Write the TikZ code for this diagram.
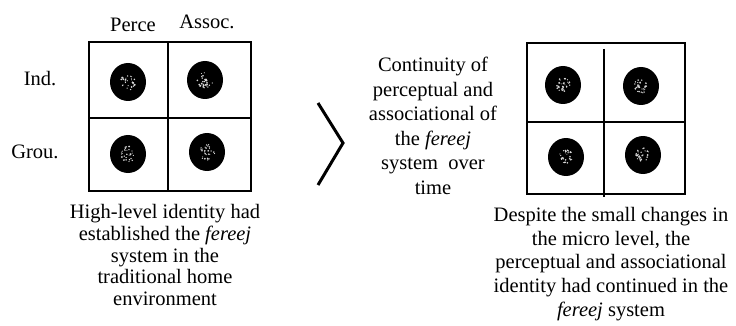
\documentclass[tikz,border=0pt]{standalone}
\usepackage{fontspec}
\setmainfont{Liberation Serif}
\begin{document}
\begin{tikzpicture}[x=1pt,y=-1pt,
  gridline/.style={line width=2.2pt},
  speck/.style={fill=white!85!black},
  txt/.style={inner sep=0pt,align=center,font=\fontsize{20.5}{21.6}\selectfont},
  lbl/.style={inner sep=0pt,font=\fontsize{20.5}{22}\selectfont}]
\useasboundingbox (0,0) rectangle (736,326);
\pgfmathsetseed{4321}
% black marker with a speckled light core
\newcommand{\speckdot}[3]{%
  \fill[black] (#1,#2) ellipse [x radius=18, y radius=19];
  \foreach \k in {1,...,30}{%
    \pgfmathsetmacro{\rr}{#3*sqrt(rnd)}%
    \pgfmathsetmacro{\aa}{360*rnd}%
    \pgfmathsetmacro{\ss}{0.5+0.5*rnd}%
    \fill[speck] ({#1+\rr*cos(\aa)},{#2+\rr*sin(\aa)}) circle [radius=\ss];
  }
}
% ---- left matrix
\draw[gridline] (89,42) rectangle (251,191);
\draw[gridline] (168,42) -- (168,191);
\draw[gridline] (89,118) -- (251,118);
\speckdot{128}{82}{8}
\speckdot{205}{80}{8}
\speckdot{128}{154}{8}
\speckdot{207}{152}{8}
\node[lbl] (perce) at (133,25) {Perce};
\node[lbl] (assoc) at (207,22) {Assoc.};
\node[lbl] (ind) at (40,79) {Ind.};
\node[lbl] (grou) at (35,152) {Grou.};
\node[txt] (lefttext) at (165,255) {High-level identity had\\established the \textit{fereej}\\system in the\\traditional home\\environment};
% ---- chevron
\draw[line width=3pt] (318,103) -- (343,143) -- (318,185);
\node[txt,font=\fontsize{20.5}{24.5}\selectfont] (midtext) at (433,126) {Continuity of\\perceptual and\\associational of\\the \textit{fereej}\\system\ \ over\\time};
% ---- right matrix
\draw[gridline] (527,43) rectangle (685,194);
\draw[gridline] (604,49) -- (604,197);
\draw[gridline] (527,122) -- (685,122);
\speckdot{563}{85}{7}
\speckdot{641}{86}{7}
\speckdot{566}{157}{7}
\speckdot{643}{155}{7}
\node[txt,font=\fontsize{20.5}{23.7}\selectfont] (righttext) at (611,264) {Despite the small changes in\\the micro level, the\\perceptual and associational\\identity had continued in the\\\textit{fereej} system};
\end{tikzpicture}
\end{document}
